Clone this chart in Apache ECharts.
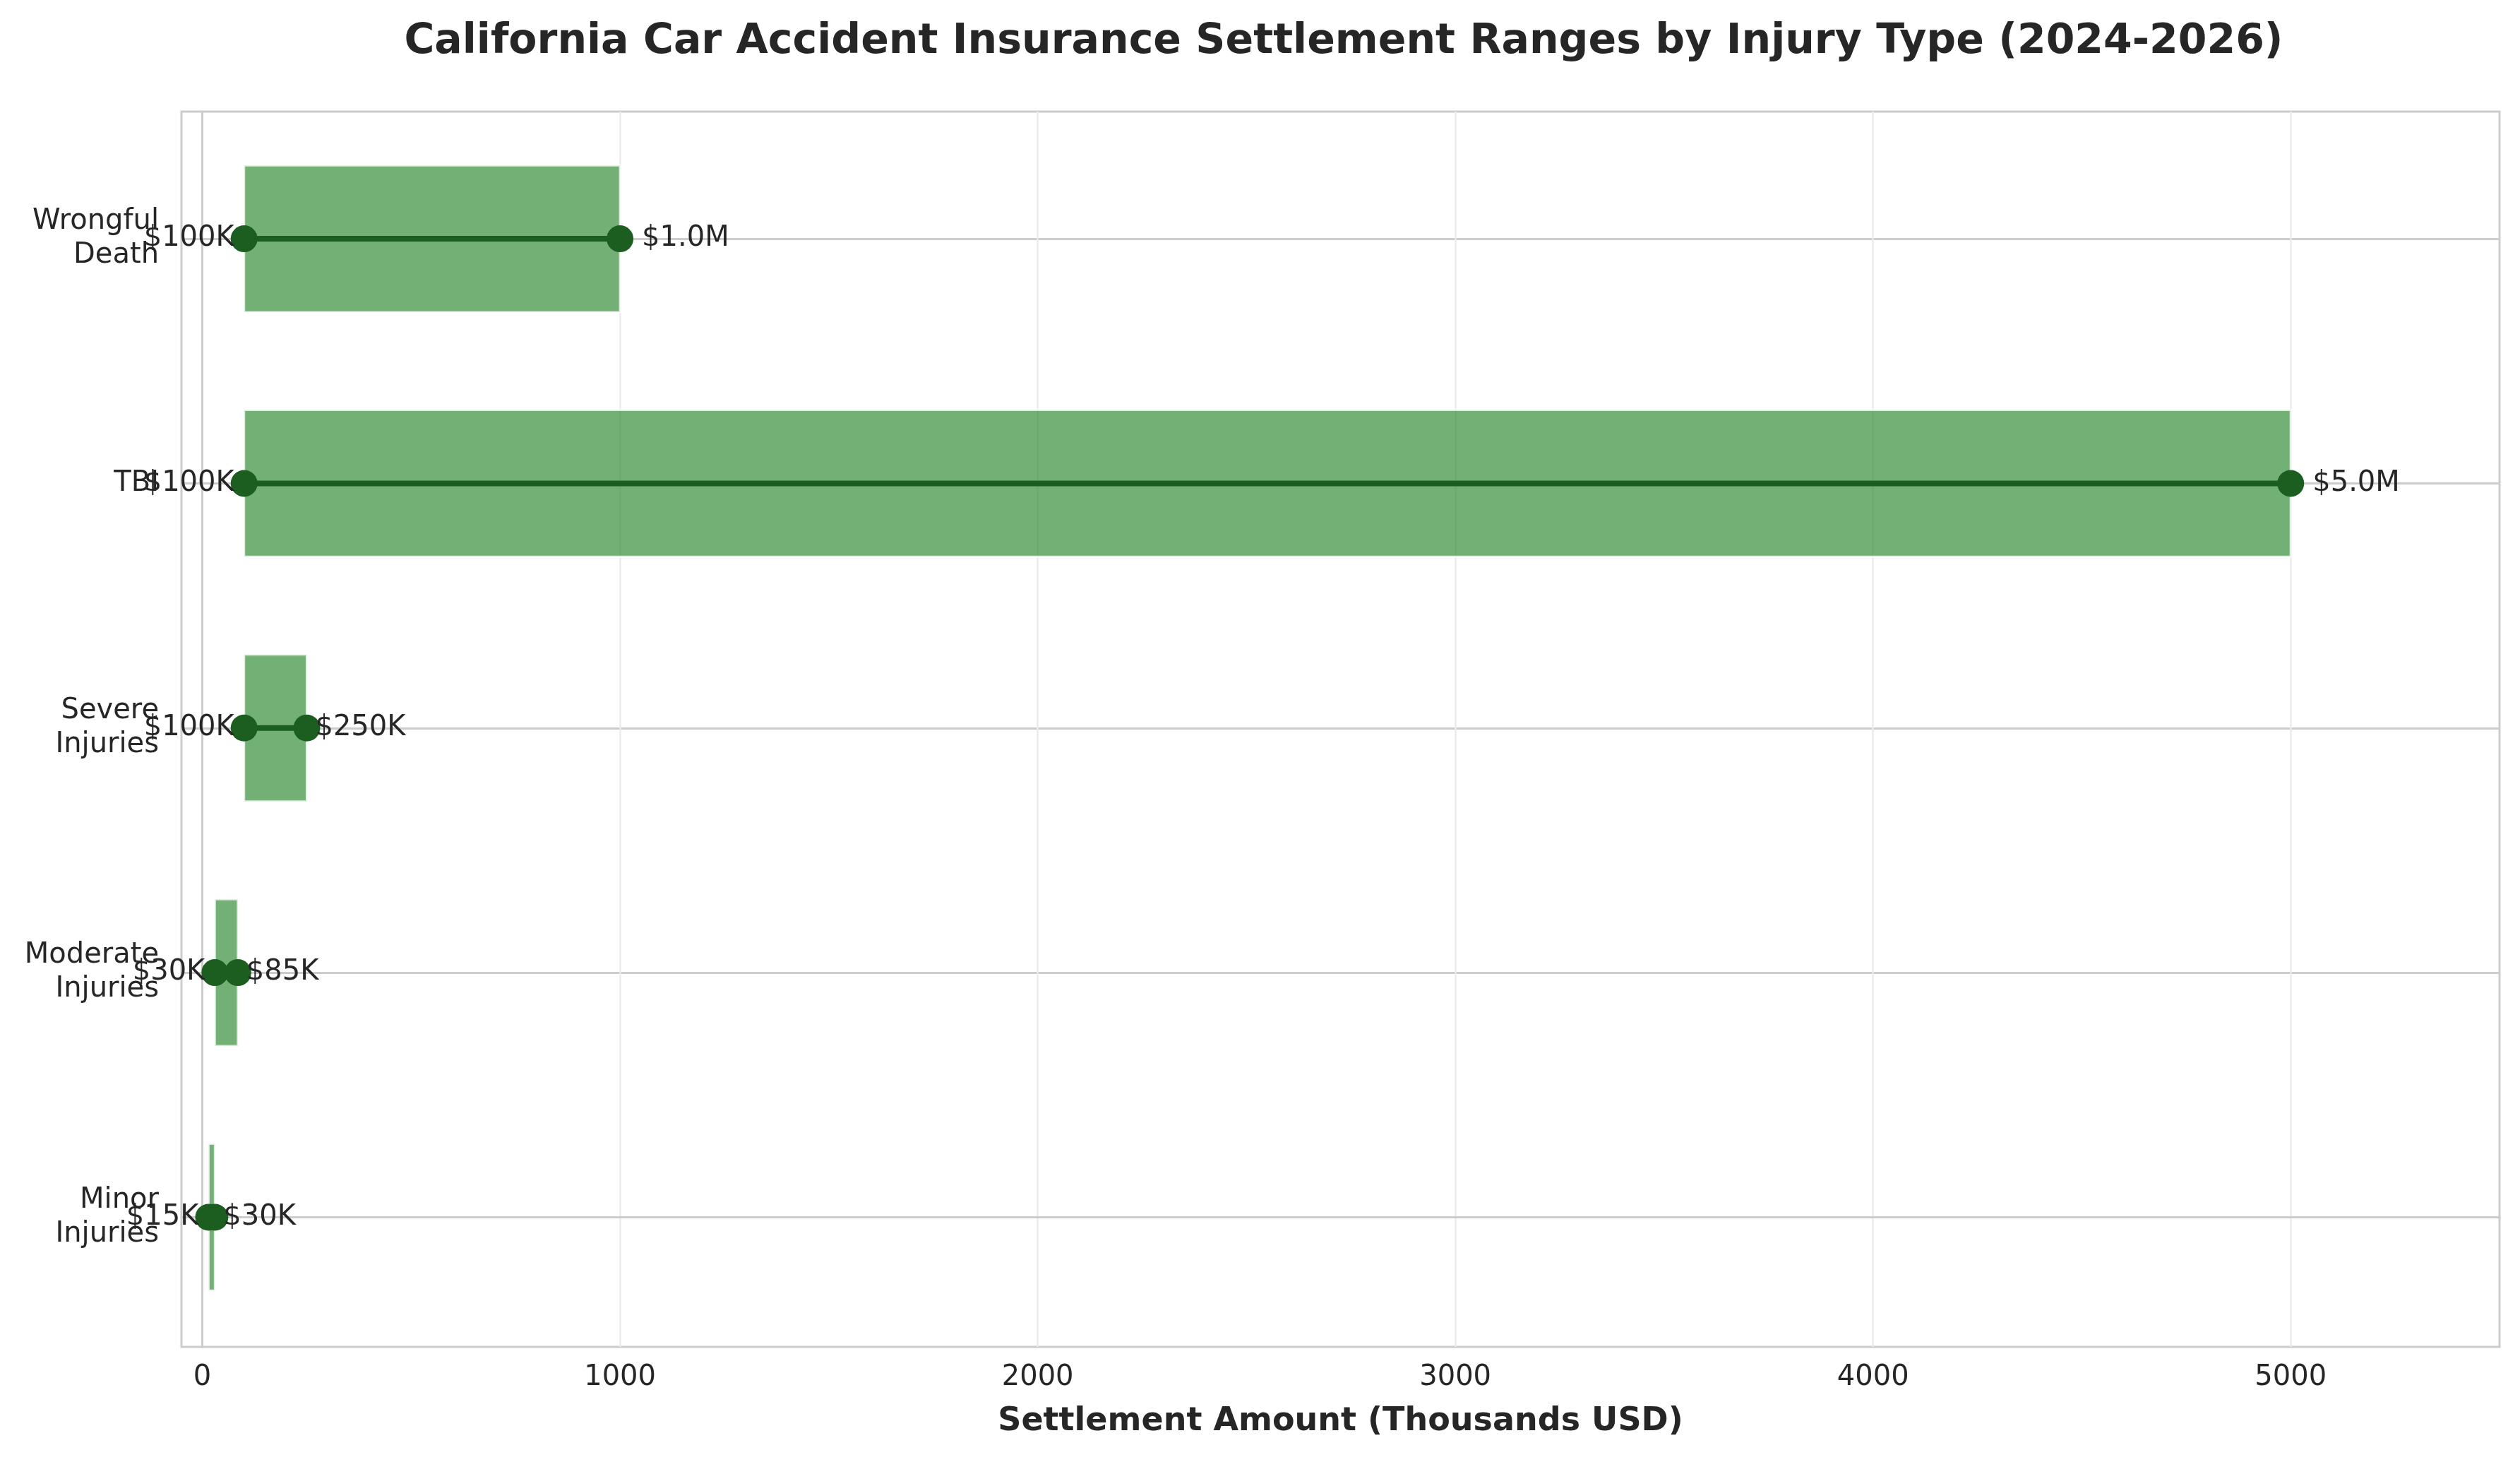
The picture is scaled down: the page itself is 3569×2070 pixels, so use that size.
<!DOCTYPE html>
<html>
<head>
<meta charset="utf-8">
<script src="https://cdn.jsdelivr.net/npm/echarts@6/dist/echarts.min.js"></script>
<style>
  html, body { margin: 0; padding: 0; background: #fff; }
  #chart { width: 3569px; height: 2070px; }
</style>
</head>
<body>
<div id="chart"></div>
<script>
// settlement ranges, thousands of USD (bottom row first, like the y axis)
const categories = ['Minor\nInjuries', 'Moderate\nInjuries', 'Severe\nInjuries', 'TBI', 'Wrongful\nDeath'];
const minValues = [15, 30, 100, 100, 100];
const maxValues = [30, 85, 250, 5000, 1000];
const xTicks = [0, 1000, 2000, 3000, 4000, 5000];
const rowTicks = [0, 1, 2, 3, 4];

const textColor = '#262626';
const dark = '#1b5e20';
const font = 'DejaVu Sans';
const barHalf = 0.3;

const fmt = v => v >= 1000 ? '$' + (v / 1000).toFixed(1) + 'M' : '$' + v + 'K';

const chart = echarts.init(document.getElementById('chart'));

const rows = categories.map((c, i) => [minValues[i], maxValues[i], i]);

const option = {
  animation: false,
  backgroundColor: '#fff',
  textStyle: { fontFamily: font },
  title: {
    text: 'California Car Accident Insurance Settlement Ranges by Injury Type (2024-2026)',
    left: 1898,
    textAlign: 'center',
    top: 25,
    textStyle: { fontSize: 58.5, fontWeight: 'bold', color: textColor, fontFamily: font }
  },
  grid: { left: 257, right: 29, top: 158, bottom: 163, show: true, borderColor: '#cccccc', borderWidth: 3 },
  xAxis: {
    type: 'value',
    min: -50,
    max: 5500,
    name: 'Settlement Amount (Thousands USD)',
    nameLocation: 'middle',
    nameGap: 83,
    nameTextStyle: { fontSize: 46, fontWeight: 'bold', color: textColor, fontFamily: font },
    axisLine: { show: true, lineStyle: { color: '#cccccc', width: 3 } },
    axisTick: { show: false, customValues: xTicks },
    axisLabel: { customValues: xTicks, formatter: v => String(v), fontSize: 40, color: textColor, margin: 24, fontFamily: font },
    splitLine: { show: true, lineStyle: { color: '#ebebeb', width: 2.5 } }
  },
  yAxis: {
    type: 'value',
    min: -0.53,
    max: 4.52,
    axisLine: { show: true, lineStyle: { color: '#cccccc', width: 3 } },
    axisTick: { show: false, customValues: rowTicks },
    axisLabel: {
      customValues: rowTicks,
      formatter: v => categories[Math.round(v)],
      fontSize: 40, color: textColor, margin: 32, lineHeight: 48, align: 'right', fontFamily: font
    },
    splitLine: { show: true, lineStyle: { color: '#cccccc', width: 3 } }
  },
  series: [
    {
      name: 'range',
      type: 'custom',
      z: 2,
      encode: { x: [0, 1], y: 2 },
      data: rows,
      renderItem: (params, api) => {
        const i = api.value(2);
        const a = api.coord([api.value(0), i + barHalf]);
        const b = api.coord([api.value(1), i - barHalf]);
        return {
          type: 'rect',
          shape: { x: a[0], y: a[1], width: b[0] - a[0], height: b[1] - a[1] },
          style: { fill: 'rgba(56,142,60,0.7)', stroke: 'rgba(255,255,255,0.75)', lineWidth: 3 }
        };
      }
    },
    {
      name: 'span',
      type: 'custom',
      z: 3,
      encode: { x: [0, 1], y: 2 },
      data: rows,
      renderItem: (params, api) => {
        const a = api.coord([api.value(0), api.value(2)]);
        const b = api.coord([api.value(1), api.value(2)]);
        return {
          type: 'line',
          shape: { x1: a[0], y1: a[1], x2: b[0], y2: b[1] },
          style: { stroke: dark, lineWidth: 8 }
        };
      }
    },
    {
      name: 'min',
      type: 'scatter',
      z: 4,
      symbolSize: 38,
      itemStyle: { color: dark, opacity: 1 },
      label: {
        show: true, position: 'left', distance: 0, offset: [5, 0],
        fontSize: 40, color: textColor, fontFamily: font,
        formatter: p => fmt(p.value[0])
      },
      data: minValues.map((v, i) => [v, i])
    },
    {
      name: 'max',
      type: 'scatter',
      z: 4,
      symbolSize: 38,
      itemStyle: { color: dark, opacity: 1 },
      label: {
        show: true, position: 'right', distance: 0,
        fontSize: 40, color: textColor, fontFamily: font,
        formatter: p => fmt(p.value[0])
      },
      data: maxValues.map((v, i) => ({ value: [v, i], label: { offset: [v >= 1000 ? 12 : -7, 0] } }))
    }
  ]
};

chart.setOption(option);
</script>
</body>
</html>
